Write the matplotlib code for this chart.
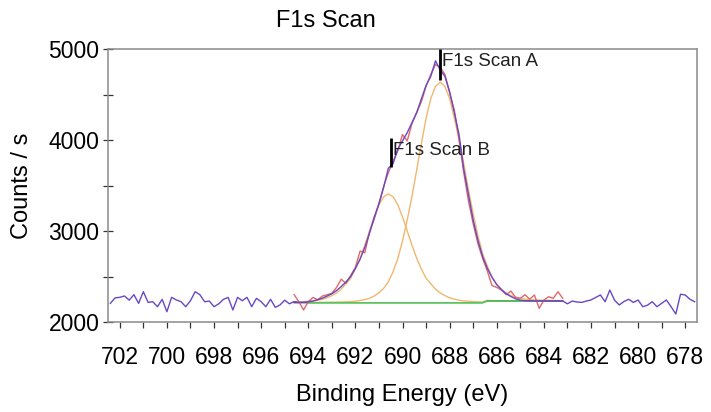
import numpy as np
import matplotlib
matplotlib.use("Agg")
import matplotlib.pyplot as plt
from matplotlib.ticker import MultipleLocator, FormatStrFormatter

plt.rcParams['font.family'] = ['Liberation Sans', 'DejaVu Sans']

# Binding energy of each acquired channel (0.2 eV step)
energy = np.linspace(702.4, 677.6, 125)

# Measured counts over the full scan
counts = [
    2205, 2265, 2271, 2286, 2240, 2300, 2205, 2333, 2216, 2223,
    2168, 2249, 2113, 2271, 2242, 2223, 2168, 2234, 2333, 2300,
    2223, 2230, 2168, 2200, 2249, 2270, 2132, 2271, 2234, 2271,
    2168, 2260, 2223, 2168, 2249, 2161, 2187, 2240, 2200,
    # fit region 694.6 .. 683.2
    2225, 2215, 2218, 2222, 2230, 2245, 2262, 2285, 2310, 2345,
    2390, 2440, 2500, 2590, 2690, 2820, 2975, 3150, 3300, 3480,
    3690, 3740, 3900, 3990, 4080, 4190, 4300, 4450, 4600, 4700,
    4870, 4770, 4700, 4530, 4300, 4060, 3680, 3400, 3120, 2900,
    2720, 2590, 2490, 2410, 2355, 2310, 2280, 2255, 2240, 2235,
    2232, 2231, 2231, 2230, 2231, 2231, 2231, 2231,
    # 683.0 .. 677.6
    2200, 2230, 2220, 2215, 2230, 2242, 2270, 2297, 2223, 2351,
    2240, 2187, 2225, 2250, 2215, 2242, 2168, 2185, 2223, 2168,
    2205, 2242, 2168, 2088, 2305, 2297, 2250, 2223,
]

# Fit region (channel slice)
region_first, region_stop = 39, 97

region_counts = [
    2300, 2223, 2132, 2223, 2270, 2245, 2285, 2300, 2315, 2380,
    2470, 2425, 2510, 2600, 2780, 2760, 2990, 3130, 3300, 3490,
    3640, 3770, 3880, 4060, 3990, 4180, 4300, 4420, 4590, 4720,
    4830, 4800, 4720, 4520, 4330, 4000, 3640, 3330, 3080, 2860,
    2700, 2560, 2400, 2380, 2352, 2300, 2340, 2270, 2260, 2300,
    2250, 2297, 2150, 2240, 2278, 2260, 2333, 2260,
]

background = [
    2212, 2212, 2212, 2212, 2212, 2212, 2212, 2212, 2212, 2212,
    2212, 2212, 2212, 2212, 2212, 2212, 2212, 2212, 2212, 2212,
    2212, 2212, 2212, 2212, 2212, 2212, 2212, 2212, 2212, 2212,
    2212, 2212, 2212, 2212, 2212, 2212, 2212, 2212, 2212, 2212,
    2212, 2231, 2231, 2231, 2231, 2231, 2231, 2231, 2231, 2231,
    2231, 2231, 2231, 2231, 2231, 2231, 2231, 2231,
]

# Component intensities above background
component_a = [
    2, 2, 3, 3, 3, 4, 4, 5, 6, 7,
    8, 10, 12, 17, 24, 34, 49, 73, 109, 158,
    230, 340, 485, 679, 909, 1164, 1455, 1746, 2025, 2243,
    2377, 2425, 2377, 2243, 2025, 1800, 1530, 1240, 980, 740,
    540, 385, 265, 185, 128, 88, 60, 42, 30, 21,
    15, 12, 10, 8, 7, 6, 5, 4,
]
component_b = [
    7, 10, 12, 16, 20, 27, 38, 54, 78, 108,
    149, 209, 269, 370, 490, 633, 789, 944, 1076, 1165,
    1195, 1165, 1076, 944, 789, 633, 490, 370, 269, 209,
    149, 108, 78, 54, 38, 27, 20, 16, 12, 10,
    7, 6, 5, 4, 4, 3, 3, 3, 2, 2,
    2, 2, 1, 1, 1, 1, 1, 1,
]

# Component baseline span
baseline_span = (694.0, 684.8)

# Peak labels
peak_names = ["F1s Scan A", "F1s Scan B"]
peak_positions = [688.4, 690.5]
marker_low = [4660, 3700]
marker_high = [5000, 4020]

x_ticks_major = [702, 700, 698, 696, 694, 692, 690, 688, 686, 684, 682, 680, 678]
y_ticks_major = [2000, 3000, 4000, 5000]

# ---------------------------------------------------------------------------
fig = plt.figure(figsize=(7.11, 4.12), dpi=100)
ax = fig.add_axes([108 / 711, 1 - 322 / 412, (697 - 108) / 711, (322 - 49) / 412])

e_reg = energy[region_first:region_stop]
bg = np.array(background, dtype=float)
ca = np.array(component_a, dtype=float)
cb = np.array(component_b, dtype=float)

orange = '#f2b76e'
ax.plot(e_reg, bg + ca, color=orange, lw=1.0, zorder=2)
ax.plot(e_reg, bg + cb, color=orange, lw=1.0, zorder=2)
ax.plot(e_reg, bg, color='#4f5f6f', lw=1.0, zorder=3)
span = (e_reg <= baseline_span[0] + 1e-6) & (e_reg >= baseline_span[1] - 1e-6)
ax.plot(e_reg[span], bg[span], color='#4fcf4f', lw=1.0, zorder=4)
ax.plot(e_reg, region_counts, color='#e0686a', lw=1.0, zorder=5)
ax.plot(energy, counts, color='#6848c4', lw=1.0, zorder=6)

for name, pos, lo, hi in zip(peak_names, peak_positions, marker_low, marker_high):
    ax.plot([pos, pos], [lo, hi], color='black', lw=2.0, zorder=7,
            clip_on=False, solid_capstyle='butt')
    ax.annotate(name, xy=(pos, hi), xytext=(2, -12), textcoords='offset pixels',
                ha='left', va='center', fontsize=13.5, color='#222222', zorder=8)

ax.set_xlim(702.5, 677.5)
ax.set_ylim(2000, 5000)
ax.set_xticks(x_ticks_major)
ax.xaxis.set_minor_locator(MultipleLocator(1))
ax.set_yticks(y_ticks_major)
ax.yaxis.set_minor_locator(MultipleLocator(500))
ax.xaxis.set_major_formatter(FormatStrFormatter('%d'))

for s in ax.spines.values():
    s.set_color('#8a8a8a')
    s.set_linewidth(1.1)

ax.tick_params(axis='x', which='both', direction='out', length=4.5, width=0.9,
               color='#333333', labelsize=16.5, pad=13)
ax.tick_params(axis='y', which='both', direction='inout', length=6.5, width=0.9,
               color='#333333', labelsize=16.5, pad=3)

fig.text(326 / 711, 1 - 26.7 / 412, 'F1s Scan', ha='center', va='baseline', fontsize=17)
fig.text(402 / 711, 1 - 401.5 / 412, 'Binding Energy (eV)', ha='center', va='baseline', fontsize=17)
fig.text(22 / 711, 1 - 186 / 412, 'Counts / s', ha='center', va='center', rotation=90, fontsize=17)

fig.savefig('out.png', dpi=100)
